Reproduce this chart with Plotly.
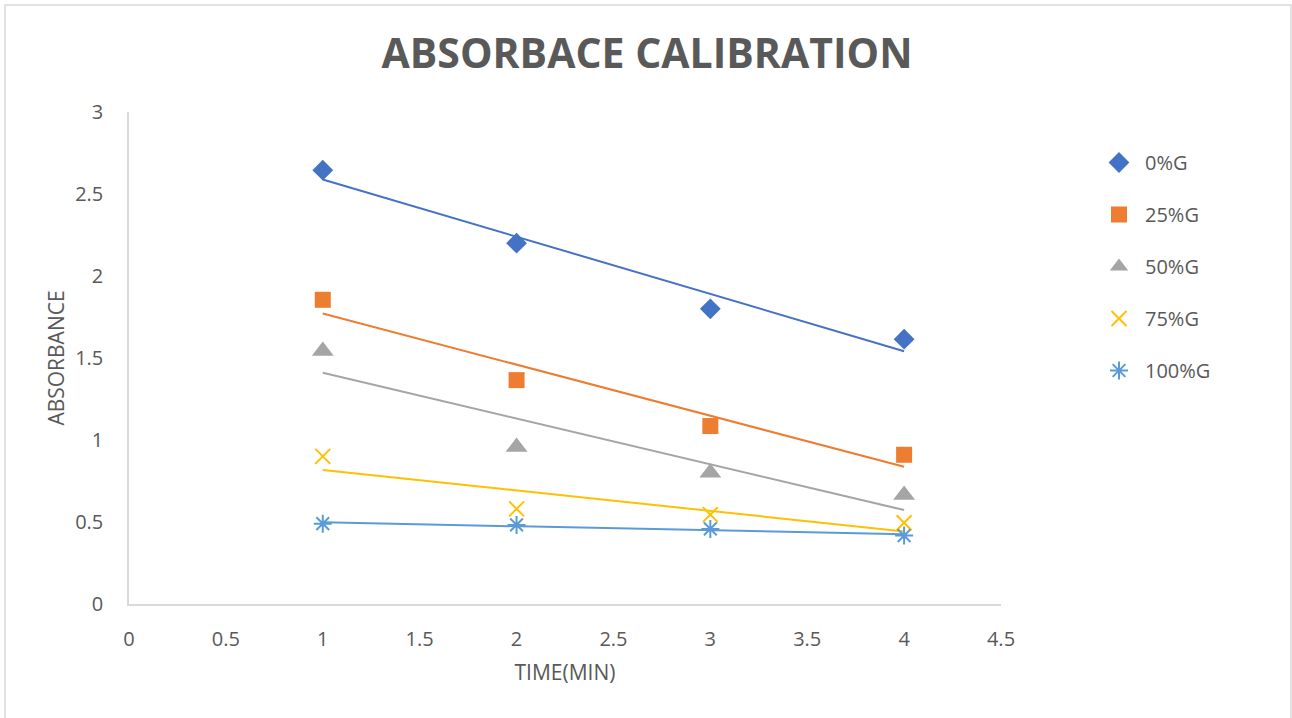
import numpy as np
import plotly.graph_objects as go

# Absorbance readings over time for each glucose level
time_min = [1, 2, 3, 4]
series_names = ["0%G", "25%G", "50%G", "75%G", "100%G"]
abs_0 = [2.645, 2.20, 1.80, 1.615]
abs_25 = [1.855, 1.365, 1.085, 0.91]
abs_50 = [1.543, 0.957, 0.80, 0.665]
abs_75 = [0.90, 0.58, 0.545, 0.495]
abs_100 = [0.49, 0.482, 0.458, 0.417]

series_values = [abs_0, abs_25, abs_50, abs_75, abs_100]
colors = ["#4472C4", "#ED7D31", "#A5A5A5", "#FFC000", "#5B9BD5"]
symbols = ["diamond", "square", "triangle-up", "x-thin-open", "asterisk-open"]
sizes = [16, 16, 19, 15, 15]

x_ticks = [0, 0.5, 1, 1.5, 2, 2.5, 3, 3.5, 4, 4.5]
y_ticks = [0, 0.5, 1, 1.5, 2, 2.5, 3]

W, H = 1292, 718
ML, MR, MT, MB = 129, 291, 112, 114

fig = go.Figure()

for i, (name, vals) in enumerate(zip(series_names, series_values)):
    # linear trendline from least squares fit
    slope, intercept = np.polyfit(time_min, vals, 1)
    fit = [slope * t + intercept for t in time_min]
    fig.add_trace(go.Scatter(
        x=time_min, y=fit, mode="lines",
        line=dict(color=colors[i], width=2),
        showlegend=False, hoverinfo="skip",
    ))

for i, (name, vals) in enumerate(zip(series_names, series_values)):
    open_sym = symbols[i].endswith("open")
    fig.add_trace(go.Scatter(
        x=time_min, y=vals, mode="markers", name=name,
        legendgroup=name,
        marker=dict(
            symbol=symbols[i], size=sizes[i], color=colors[i],
            line=dict(color=colors[i], width=2 if open_sym else 0),
        ),
    ))

pw = W - ML - MR
ph = H - MT - MB

fig.add_shape(
    type="rect", xref="paper", yref="paper",
    x0=(5 - ML) / pw, x1=(1291 - ML) / pw,
    y0=(H - MB - 725) / ph, y1=(H - MB - 5) / ph,
    line=dict(color="#D9D9D9", width=1.5), fillcolor="rgba(0,0,0,0)",
    layer="below",
)

tick_font = dict(family="Open Sans, Arial", size=20, color="#595959")
axis_title_font = dict(family="Open Sans, Arial", size=21, color="#595959")

fig.update_layout(
    width=W, height=H,
    margin=dict(l=ML, r=MR, t=MT, b=MB),
    paper_bgcolor="white", plot_bgcolor="white",
    title=dict(
        text="<b>ABSORBACE CALIBRATION</b>",
        x=647 / W, xanchor="center",
        y=1 - 54 / H, yanchor="middle",
        font=dict(family="Open Sans, Arial", size=41, color="#595959"),
    ),
    xaxis=dict(
        range=[0, 4.5], tickvals=x_ticks, ticktext=[f"{v:g}" for v in x_ticks],
        showgrid=False, zeroline=False, showline=True, linecolor="#D9D9D9",
        linewidth=1.5, ticks="", tickfont=tick_font, ticklabelstandoff=16,
        title=dict(text="TIME(MIN)", font=axis_title_font, standoff=15),
    ),
    yaxis=dict(
        range=[0, 3], tickvals=y_ticks, ticktext=[f"{v:g}" for v in y_ticks],
        showgrid=False, zeroline=False, showline=True, linecolor="#D9D9D9",
        linewidth=1.5, ticks="", tickfont=tick_font, ticklabelstandoff=20,
        title=dict(text="ABSORBANCE", font=axis_title_font, standoff=5),
    ),
    legend=dict(
        x=(1093 - ML) / pw, xanchor="left",
        y=(H - MB - 143) / ph, yanchor="top",
        font=dict(family="Open Sans, Arial", size=20, color="#595959"),
        traceorder="grouped", tracegroupgap=23, itemwidth=42,
        bgcolor="rgba(0,0,0,0)",
    ),
)

fig.write_html("out.html")
